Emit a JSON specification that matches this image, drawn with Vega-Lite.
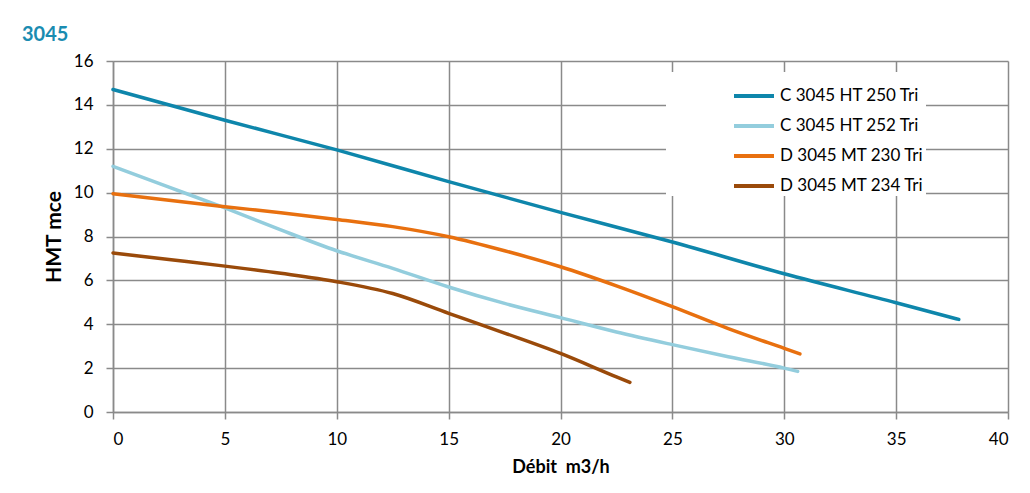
{
  "$schema": "https://vega.github.io/schema/vega-lite/v6.json",
  "width": 895,
  "height": 351,
  "autosize": "none",
  "padding": {"left": 113, "top": 61, "right": 22, "bottom": 81},
  "background": "white",
  "title": {
    "text": "3045",
    "anchor": "start",
    "frame": "group",
    "dx": -91,
    "offset": 7,
    "font": "Lato",
    "fontSize": 20,
    "fontWeight": "bold",
    "color": "#1A8CB1"
  },
  "data": {
    "values": [
      {"model": "C 3045 HT 250 Tri", "q": 0, "h": 14.7},
      {"model": "C 3045 HT 250 Tri", "q": 5, "h": 13.3},
      {"model": "C 3045 HT 250 Tri", "q": 10, "h": 11.95},
      {"model": "C 3045 HT 250 Tri", "q": 15, "h": 10.5},
      {"model": "C 3045 HT 250 Tri", "q": 20, "h": 9.1},
      {"model": "C 3045 HT 250 Tri", "q": 25, "h": 7.75},
      {"model": "C 3045 HT 250 Tri", "q": 30, "h": 6.3},
      {"model": "C 3045 HT 250 Tri", "q": 35, "h": 4.98},
      {"model": "C 3045 HT 250 Tri", "q": 37.8, "h": 4.22},
      {"model": "C 3045 HT 252 Tri", "q": 0, "h": 11.2},
      {"model": "C 3045 HT 252 Tri", "q": 2.5, "h": 10.25},
      {"model": "C 3045 HT 252 Tri", "q": 5, "h": 9.3},
      {"model": "C 3045 HT 252 Tri", "q": 7.5, "h": 8.3},
      {"model": "C 3045 HT 252 Tri", "q": 10, "h": 7.35},
      {"model": "C 3045 HT 252 Tri", "q": 12.5, "h": 6.55},
      {"model": "C 3045 HT 252 Tri", "q": 15, "h": 5.7},
      {"model": "C 3045 HT 252 Tri", "q": 17.5, "h": 4.95},
      {"model": "C 3045 HT 252 Tri", "q": 20, "h": 4.3},
      {"model": "C 3045 HT 252 Tri", "q": 22.5, "h": 3.65},
      {"model": "C 3045 HT 252 Tri", "q": 25, "h": 3.07},
      {"model": "C 3045 HT 252 Tri", "q": 27.5, "h": 2.52},
      {"model": "C 3045 HT 252 Tri", "q": 30, "h": 2.0},
      {"model": "C 3045 HT 252 Tri", "q": 30.6, "h": 1.85},
      {"model": "D 3045 MT 230 Tri", "q": 0, "h": 9.95},
      {"model": "D 3045 MT 230 Tri", "q": 2.5, "h": 9.65},
      {"model": "D 3045 MT 230 Tri", "q": 5, "h": 9.36},
      {"model": "D 3045 MT 230 Tri", "q": 7.5, "h": 9.08},
      {"model": "D 3045 MT 230 Tri", "q": 10, "h": 8.78},
      {"model": "D 3045 MT 230 Tri", "q": 12.5, "h": 8.45},
      {"model": "D 3045 MT 230 Tri", "q": 15, "h": 7.99},
      {"model": "D 3045 MT 230 Tri", "q": 17.5, "h": 7.35},
      {"model": "D 3045 MT 230 Tri", "q": 20, "h": 6.62},
      {"model": "D 3045 MT 230 Tri", "q": 22.5, "h": 5.75},
      {"model": "D 3045 MT 230 Tri", "q": 25, "h": 4.8},
      {"model": "D 3045 MT 230 Tri", "q": 27.5, "h": 3.8},
      {"model": "D 3045 MT 230 Tri", "q": 30, "h": 2.9},
      {"model": "D 3045 MT 230 Tri", "q": 30.7, "h": 2.65},
      {"model": "D 3045 MT 234 Tri", "q": 0, "h": 7.25},
      {"model": "D 3045 MT 234 Tri", "q": 2.5, "h": 6.95},
      {"model": "D 3045 MT 234 Tri", "q": 5, "h": 6.65},
      {"model": "D 3045 MT 234 Tri", "q": 7.5, "h": 6.32},
      {"model": "D 3045 MT 234 Tri", "q": 10, "h": 5.94},
      {"model": "D 3045 MT 234 Tri", "q": 12.5, "h": 5.4},
      {"model": "D 3045 MT 234 Tri", "q": 15, "h": 4.5},
      {"model": "D 3045 MT 234 Tri", "q": 17.5, "h": 3.6},
      {"model": "D 3045 MT 234 Tri", "q": 20, "h": 2.67},
      {"model": "D 3045 MT 234 Tri", "q": 22.5, "h": 1.6},
      {"model": "D 3045 MT 234 Tri", "q": 23.1, "h": 1.35}
    ]
  },
  "mark": {"type": "line", "strokeWidth": 3.5, "interpolate": "monotone", "strokeCap": "round"},
  "encoding": {
    "x": {
      "field": "q",
      "type": "quantitative",
      "scale": {"domain": [0, 40], "nice": false, "zero": true},
      "axis": {"values": [0, 5, 10, 15, 20, 25, 30, 35, 40], "title": "Débit \u00a0m3/h", "titlePadding": 11}
    },
    "y": {
      "field": "h",
      "type": "quantitative",
      "scale": {"domain": [0, 16], "nice": false},
      "axis": {"values": [0, 2, 4, 6, 8, 10, 12, 14, 16], "title": "HMT mce", "titlePadding": 9, "titleFontSize": 21}
    },
    "color": {
      "field": "model",
      "type": "nominal",
      "scale": {
        "domain": ["C 3045 HT 250 Tri", "C 3045 HT 252 Tri", "D 3045 MT 230 Tri", "D 3045 MT 234 Tri"],
        "range": ["#0E86AB", "#93CDDD", "#E8700F", "#9A4A0A"]
      },
      "legend": {
        "title": " ",
        "titleOrient": "left",
        "titlePadding": 64,
        "orient": "none",
        "legendX": 553,
        "legendY": 11,
        "fillColor": "white",
        "padding": 2,
        "symbolType": "stroke",
        "symbolSize": 1600,
        "symbolStrokeWidth": 4,
        "labelFont": "Lato",
        "labelFontSize": 17,
        "labelColor": "black",
        "labelOffset": 4,
        "labelLimit": 400,
        "rowPadding": -8
      }
    }
  },
  "config": {
    "view": {"stroke": null},
    "axis": {
      "labelFont": "Lato",
      "labelFontSize": 17,
      "labelColor": "black",
      "titleFont": "Lato",
      "titleFontSize": 18,
      "titleFontWeight": "bold",
      "titleColor": "black",
      "gridColor": "#8A8A8A",
      "gridWidth": 1.5,
      "gridOpacity": 1,
      "domainColor": "#8A8A8A",
      "domainWidth": 1.5,
      "tickColor": "#8A8A8A",
      "tickWidth": 1.5,
      "tickSize": 7
    },
    "axisX": {"labelPadding": 12},
    "axisY": {"labelPadding": 13}
  }
}
